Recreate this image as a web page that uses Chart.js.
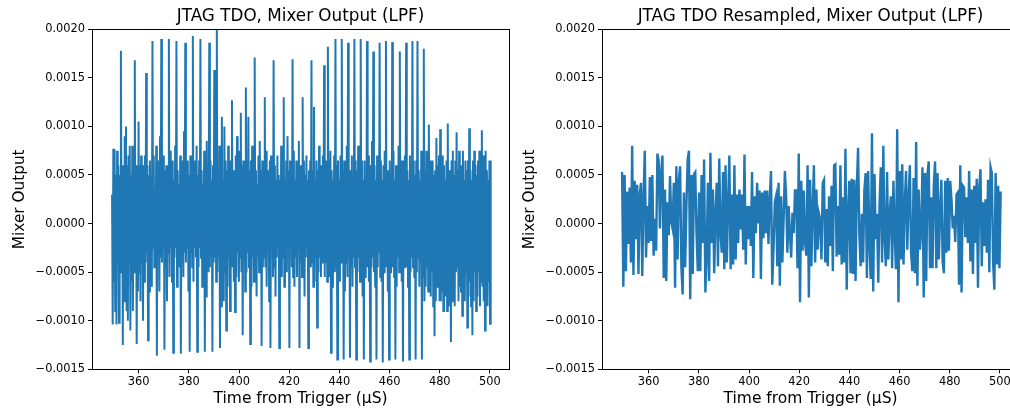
<!DOCTYPE html>
<html><head><meta charset="utf-8">
<script src="https://cdn.jsdelivr.net/npm/chart.js@4/dist/chart.umd.min.js"></script>
<style>
html,body{margin:0;padding:0;background:#fff;overflow:hidden;}
#wrap{position:relative;width:1010px;height:412px;overflow:hidden;background:#fff;}
canvas{position:absolute;top:0;}
</style></head><body>
<div id="wrap">
<canvas id="c1" width="520" height="412" style="left:0px"></canvas>
<canvas id="c2" width="520" height="412" style="left:510px"></canvas>
</div>
<script>
// Values are stored in units of 1e-4 (Mixer Output)
const VALUE_UNIT = 1e-4;
const timeStart = 349.4;        // µS, first sample
const rawStep = 0.2515;         // µS between raw samples
const resampledStep = 0.503;    // µS between resampled samples

const rawTdo = [
 3, -10.4, 7.7, -6, 7.6, -9, 5, -10.4, 7.5, -4, 6, -10.2, 5, -5, 17.8, -3, 6, -12.5, 5, -8,
 9, -6, 10, -9, 6, -10, 7, -4, 8, -11, 5, -6, 8, -9, 6, -5, 16.8, -4, 6, -12.4,
 5, -7, 10.5, -5, 6, -8, 7, -4, 6, -10, 5, -6, 7, -4, 15.5, -3, 6, -12, 5, -7,
 6.5, -3, 4.5, -6.5, 18.8, -2.5, 7, -4.5, 3.5, -3, 8, -13.6, 5.5, -2.5, 6.5, -7, 9, -3.5, 19, -4,
 4.5, -2.5, 7, -13, 5.5, -4.5, 6, -8, 4, -3, 19, -5.5, 7.5, -2.5, 5, -6, 6.5, -13.3, 4.5, -3.5,
 8, -2.5, 18.8, -6.5, 5.5, -3, 4, -4.5, 7, -13.4, 3.5, -2.5, 6.5, -5.5, 9.5, -3, 18.6, -4, 4.5, -2.5,
 6.5, -7, 5, -13.2, 7, -3, 4, -4.5, 19.3, -6, 6.5, -2.5, 4.5, -3.5, 8, -13.2, 5, -4.5, 6.5, -2.5,
 19, -3.5, 5.5, -6.5, 4, -3, 7.5, -13.2, 5.5, -7.5, 8.5, -2.5, 6, -5, 18.6, -4.5, 6.5, -3, 4.5, -13.2,
 6, -4, 15.8, -3.5, 7, -6, 20.5, -5, 5.5, -3.5, 8, -12.8, 6.5, -8.5, 11, -6, 4.5, -8, 10, -5,
 6.5, -11, 5.5, -6.5, 8, -3.5, 4.5, -9, 6.5, -3.5, 12.7, -4.5, 5.5, -6, 4, -9.1, 7, -5.5, 9, -3,
 5.5, -6, 7.5, -3.5, 11.4, -5, 6, -11.5, 6.5, -3.5, 4.5, -7, 14, -5, 6.5, -3, 11, -4.5, 5.5, -12.4,
 6.5, -6.5, 8, -3.5, 4.5, -6, 17.1, -3.5, 5.5, -7.5, 4, -3.5, 7, -5, 8.5, -2.5, 5.5, -12.6, 6.5, -4.5,
 4.5, -3.5, 13, -4.5, 7.5, -6.5, 5.5, -3, 4.5, -8, 6.5, -12.8, 7, -2.5, 4.5, -5.5, 16.8, -4.5, 6, -7.5,
 4.5, -3.5, 7, -2.5, 5, -12.8, 4.5, -4, 8, -5.5, 6, -3.5, 13, -6.5, 4.5, -3.5, 6.5, -5, 9, -2.5,
 5.5, -12.8, 6.5, -2.5, 4.5, -4.5, 16.9, -5.5, 7.5, -6.5, 4.5, -3.5, 6.5, -5.5, 5.5, -2.5, 8.5, -12.8, 6, -4,
 4.5, -5.5, 13, -4.5, 6.5, -7.5, 5, -3.5, 7, -2.5, 4.5, -12.8, 5.5, -3, 6.5, -4.5, 16.8, -4, 5.5, -6.5,
 12, -6, 4.5, -3.5, 6.5, -10.7, 5.5, -5, 8, -3.5, 6, -5.5, 4.5, -4, 7, -2.5, 16.3, -5.5, 6.5, -4,
 5, -6, 18.2, -4, 6.5, -5.5, 7.5, -13.3, 5.5, -6.5, 4.5, -3.5, 7, -5, 19, -4.5, 6, -14, 6.5, -3.5,
 4.5, -6, 7, -4, 19, -3.5, 5.5, -14, 6.5, -7, 4, -4, 8, -5.5, 18.6, -3.5, 5, -13.8, 5.5, -4.5,
 7, -6.5, 5, -3.5, 19, -4.5, 6.5, -14, 5.5, -5, 8, -3.5, 6, -6, 19, -4, 6.5, -7.5, 4.5, -14,
 6.5, -5.5, 5, -3.5, 18.8, -4.5, 7, -6, 5, -14.2, 6, -4.5, 8.5, -3.5, 17.7, -5, 6, -6.5, 4.5, -14,
 7, -4.5, 5.5, -3, 18.6, -5.5, 6.5, -6, 4.5, -14.3, 6, -5, 7.5, -3.5, 18.8, -4.5, 5.5, -7, 5, -14,
 6.5, -5, 5, -3.5, 18.7, -4.5, 7.5, -5.5, 4.5, -14, 6, -6.5, 5.5, -3.5, 8, -5, 17.7, -4, 6.5, -6,
 5, -14.2, 6.5, -4.5, 7, -3.5, 18.6, -4.5, 5.5, -6.5, 4.5, -14, 7, -5, 5.5, -3.5, 18.8, -4.5, 6.5, -5.5,
 5, -14, 6.5, -5, 18.8, -3.5, 5.5, -6.5, 4.5, -4, 7.5, -14, 6, -5.5, 18, -8, 5.5, -6.5, 7.5, -4.5,
 6, -7, 10.2, -3.5, 6.5, -7.5, 4.5, -5, 6.5, -8.5, 5, -11.6, 5.5, -8, 8.8, -6.5, 6, -4.5, 7, -8,
 9.7, -8, 5.5, -7, 7, -9, 6, -5.5, 4.5, -7.5, 6.5, -9, 10.3, -7, 5.5, -8.5, 4.5, -12.2, 6.5, -8,
 7.5, -6, 5, -8.5, 6.5, -5, 9.4, -4.5, 5.5, -8, 7.5, -6.5, 5, -7, 6, -9.5, 7.5, -6, 4.5, -8,
 6.5, -5, 5.5, -10.7, 6.5, -7.5, 9.8, -6, 5.5, -8.5, 4.5, -11.5, 6.5, -8, 7.5, -5, 6, -9, 5, -7.5,
 6.5, -5, 7.5, -8.5, 5.5, -6, 9.6, -6.5, 7, -8, 6, -11, 7.5, -6, 5.5, -8.5, 4.5, -6, 6.5, -10.3,
 6.5
];

const resampledTdo = [
 5.3, -6.5, 5.0, -4.9, 3.3, -2.1, 3.7, -4.0, 8.0, -5.3,
 4.4, -1.6, 4.0, -5.2, 3.0, 4.2, -5.4, 2.6, 7.5, -3.5,
 1.8, -2.0, 4.8, -1.8, 5.0, -3.3, 0.5, -2.8, 7.2, 6.5,
 -0.5, 5.3, 7.0, -5.6, 3.5, -5.9, 2.2, -1.2, 4.9, 0.2,
 -0.5, 4.2, -6.6, 5.9, -3.7, 4.5, 5.9, -4.5, -7.3, 3.2,
 -4.5, 2.0, 6.6, 7.5, -7.8, 5.0, -5.2, 5.1, 5.3, -1.0,
 -4.9, 3.2, -4.9, 5.0, -2.0, 6.6, -7.1, -3.5, 4.2, -5.9,
 7.3, -2.0, 3.5, -5.1, 1.0, 4.2, -4.4, 6.7, -1.0, -3.0,
 5.3, -4.7, 6.0, -4.0, 2.0, 7.0, -4.7, 3.0, -4.2, 6.0,
 -3.7, 3.0, -2.0, 3.5, -0.6, 3.0, -2.7, 7.1, -4.2, 1.8,
 -1.6, 1.8, -2.3, 5.3, -5.6, 2.8, -1.0, 4.2, 0.0, 3.4,
 -5.7, 3.2, -1.5, 3.4, -1.0, 3.4, -2.1, 2.5, 5.4, -6.3,
 -2.7, 2.2, 2.8, -4.4, 4.2, -6.4, 2.8, -4.0, 0.5, 5.4,
 2.8, -3.0, 1.8, -1.0, -3.5, 1.1, -1.0, 3.4, 3.4, -4.6,
 7.2, -8.1, 4.4, -2.8, 3.4, -2.0, -3.3, 6.0, -7.6, 4.5,
 -4.4, 1.5, 6.0, -4.0, 3.5, -2.7, 1.0, 0.4, -3.7, 4.2,
 4.5, -4.0, 1.5, -4.4, 2.8, -2.3, 3.9, -4.9, 6.0, 6.1,
 -3.4, 1.8, -3.2, 6.0, -4.2, 2.7, -4.0, 7.7, -6.8, 1.0,
 4.4, -5.1, 4.6, -5.2, 4.5, -5.9, 3.7, 7.8, -1.0, -4.4,
 1.0, -4.0, 3.5, 5.2, -5.6, 5.4, -2.0, -5.7, 9.3, -7.0,
 5.1, -1.6, 1.0, -6.1, 2.0, 5.8, -4.0, 8.0, -1.5, -4.4,
 5.3, -3.7, 1.0, 2.8, -4.6, 4.4, -1.0, -4.7, 9.7, -8.1,
 5.4, -3.7, 6.1, -4.2, 2.0, 5.4, -2.7, 2.5, 6.0, -3.0,
 -4.9, 4.7, -5.1, 8.4, -6.4, 3.5, -2.7, -0.6, 5.8, -7.6,
 5.2, -5.9, 5.1, 6.4, -4.6, 2.7, -4.6, 4.0, 6.4, -4.6,
 5.2, -3.7, 1.5, 4.5, -3.9, -5.1, 4.4, -3.0, 4.7, -2.8,
 4.4, 2.5, -0.5, 0.8, -1.9, 3.0, 3.2, -6.3, 6.0, -7.1,
 3.9, 3.7, -1.4, 2.7, -2.0, 5.4, -3.9, 3.5, -5.2, 3.9,
 -2.0, 4.6, -6.6, 3.7, 5.6, -4.4, 2.2, -2.3, 2.5, -3.0,
 4.5, -5.0, 5.8, 5.2, -4.0, -6.8, 5.2, -4.2, 3.9, -4.6,
 3.3
];

const xTicks = [360, 380, 400, 420, 440, 460, 480, 500];
const yTicks = [-0.0015, -0.0010, -0.0005, 0.0, 0.0005, 0.0010, 0.0015, 0.0020];
const titles = ["JTAG TDO, Mixer Output (LPF)", "JTAG TDO Resampled, Mixer Output (LPF)"];
const xLabel = "Time from Trigger (\u03BCS)";
const yLabel = "Mixer Output";

const FONT = "'DejaVu Sans', 'Liberation Sans', sans-serif";
const LINE_COLOR = "#1f77b4";

function points(vals, step) {
  return vals.map((v, i) => ({ x: timeStart + i * step, y: v * VALUE_UNIT }));
}
function fmtY(v) {
  if (Math.abs(v) < 1e-12) v = 0;
  const s = Math.abs(v).toFixed(4);
  return v < 0 ? "\u2212" + s : s;
}

const framePlugin = {
  id: "frame",
  afterDatasetsDraw(chart) {
    const a = chart.chartArea, c = chart.ctx;
    c.save();
    c.strokeStyle = "#000";
    c.lineWidth = 1;
    c.strokeRect(Math.round(a.left) + 0.5, Math.round(a.top) + 0.5,
                 Math.round(a.right - a.left), Math.round(a.bottom - a.top));
    c.restore();
  }
};

function makeChart(id, vals, step, width, title) {
  return new Chart(document.getElementById(id), {
    type: "line",
    data: { datasets: [{ data: points(vals, step), borderColor: LINE_COLOR, borderWidth: width,
      pointRadius: 0, tension: 0, fill: false, borderJoinStyle: "miter" }] },
    options: {
      responsive: false, animation: false, devicePixelRatio: 1,
      parsing: false, normalized: true,
      layout: { padding: { left: 0, right: 11, top: 0, bottom: 0 } },
      plugins: {
        legend: { display: false }, tooltip: { enabled: false },
        title: { display: true, text: title, color: "#000", fullSize: false,
          font: { family: FONT, size: 16.8, weight: "normal" },
          padding: { top: 6.5, bottom: 2.6 } }
      },
      scales: {
        x: {
          type: "linear", min: 341.4, max: 507.6,
          afterBuildTicks: s => { s.ticks = xTicks.map(v => ({ value: v })); },
          afterFit: s => { s.height = 42.7; },
          grid: { display: true, drawOnChartArea: false, drawTicks: true, tickLength: 4, color: "#000", lineWidth: 1 },
          border: { display: false },
          ticks: { color: "#000", font: { family: FONT, size: 11.4 }, padding: 2,
            maxRotation: 0, autoSkip: false, callback: v => String(v) },
          title: { display: true, text: xLabel, color: "#000",
            font: { family: FONT, size: 15.5 }, padding: { top: 0, bottom: 3.4 } }
        },
        y: {
          type: "linear", min: -0.0015, max: 0.002,
          afterBuildTicks: s => { s.ticks = yTicks.map(v => ({ value: v })); },
          afterFit: s => { s.width = 92; },
          grid: { display: true, drawOnChartArea: false, drawTicks: true, tickLength: 4, color: "#000", lineWidth: 1 },
          border: { display: false },
          ticks: { color: "#000", font: { family: FONT, size: 11.4 }, padding: 3,
            autoSkip: false, callback: v => fmtY(v) },
          title: { display: true, text: yLabel, color: "#000",
            font: { family: FONT, size: 15.3 }, padding: { top: 10.4, bottom: 0 } }
        }
      }
    },
    plugins: [framePlugin]
  });
}

makeChart("c1", rawTdo, rawStep, 2.0, titles[0]);
makeChart("c2", resampledTdo, resampledStep, 2.4, titles[1]);
</script>
</body></html>
